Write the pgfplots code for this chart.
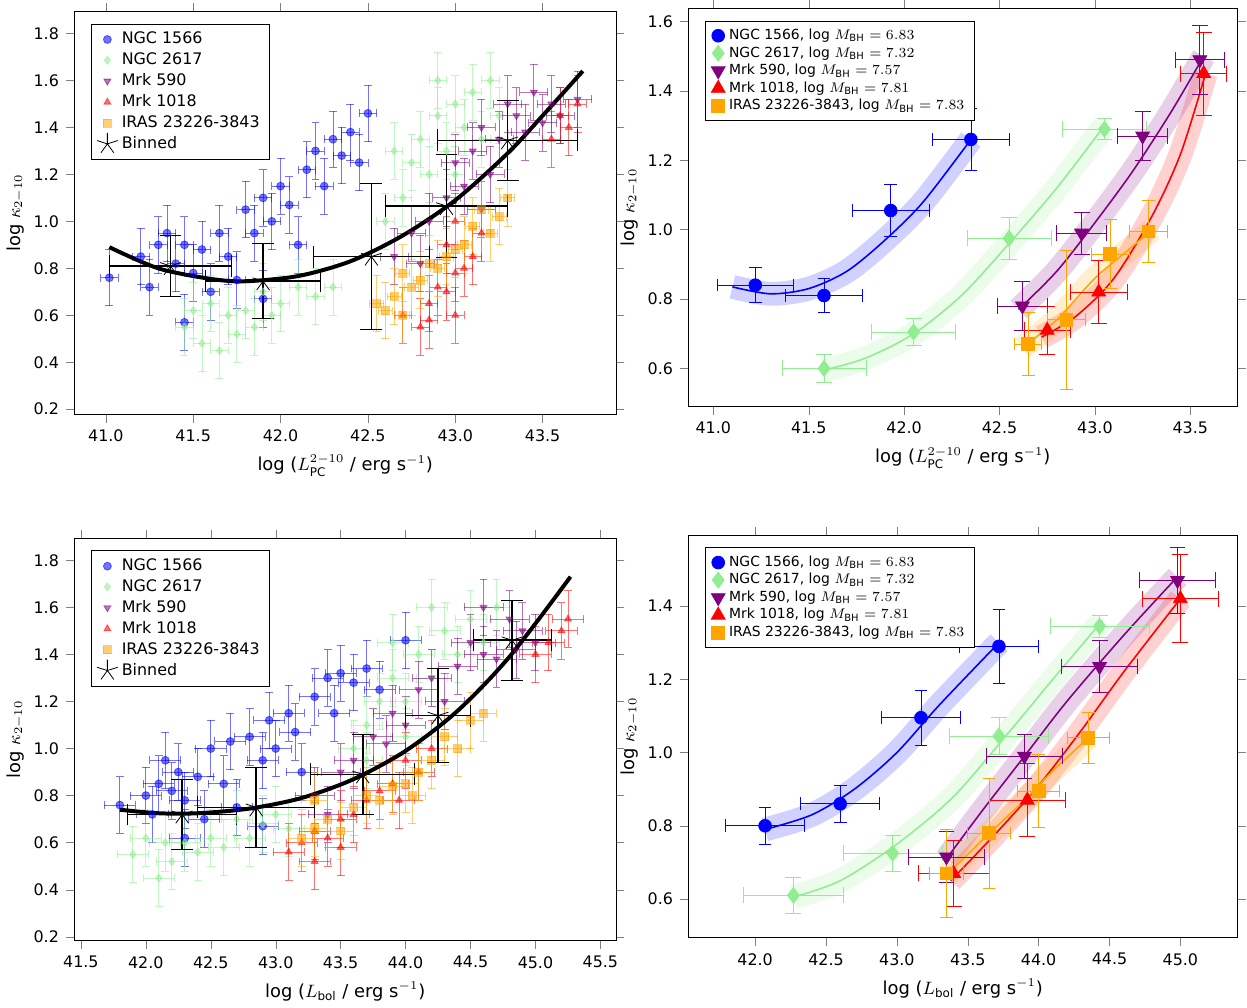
\documentclass[border=0pt]{standalone}
\usepackage{pgfplots}
\pgfplotsset{compat=1.18}
\usepackage{fontspec}
\setmainfont{DejaVu Sans}
\definecolor{lg}{RGB}{144,238,144}
\definecolor{pur}{RGB}{128,0,128}
\definecolor{org}{RGB}{255,165,0}
\pgfplotsset{
  every axis/.append style={scale only axis, anchor=north west,
    /pgf/number format/assume math mode=true,
    tick label style={font=\footnotesize}, label style={font=\small},
    tick align=outside, ylabel style={yshift=-2pt}},
  sc/.style={only marks, mark size=2pt, opacity=0.55,
    error bars/x dir=both, error bars/x fixed=#1, error bars/y dir=both, error bars/y fixed=0.12},
  bn/.style={only marks, mark size=3.2pt,
    error bars/x dir=both, error bars/x explicit, error bars/y dir=both, error bars/y explicit},
  band/.style={forget plot, smooth, opacity=0.18, line width=12pt, #1},
  fit/.style={forget plot, smooth, thick, #1},
}
\begin{document}
\begin{tikzpicture}
\path (0,0) rectangle (623.5pt,-499pt);
% ---------------- top left
\begin{axis}[at={(33.5pt,-4pt)}, width=272.5pt, height=202.5pt,
  xmin=40.82, xmax=43.92, ymin=0.179, ymax=1.893,
  xtick={41,41.5,...,43.5}, ytick={0.2,0.4,...,1.8},
  xticklabel style={/pgf/number format/.cd,fixed,fixed zerofill,precision=1},
  yticklabel style={/pgf/number format/.cd,fixed,fixed zerofill,precision=1},
  xlabel={log ($L_{\rm PC}^{2-10}$ / erg s$^{-1}$)}, ylabel={log $\kappa_{2-10}$},
  legend pos=north west, legend style={font=\footnotesize, row sep=-1pt}, legend cell align=left]
\addplot[sc=0.05, blue, mark=*] coordinates {(41.02,0.76)(41.2,0.85)(41.25,0.72)(41.3,0.9)(41.35,0.95)(41.4,0.82)(41.45,0.9)(41.5,0.78)(41.55,0.88)(41.6,0.7)(41.65,0.95)(41.7,0.85)(41.75,0.75)(41.8,1.05)(41.85,0.95)(41.9,1.1)(41.95,1.0)(42.0,1.15)(42.05,1.07)(42.1,0.9)(42.15,1.22)(42.2,1.3)(42.25,1.15)(42.3,1.35)(42.35,1.28)(42.4,1.38)(42.45,1.25)(42.5,1.46)(41.45,0.57)(41.9,0.67)};
\addlegendentry{NGC 1566}
\addplot[sc=0.05, lg, mark=diamond*] coordinates {(41.45,0.55)(41.5,0.62)(41.55,0.48)(41.6,0.65)(41.65,0.45)(41.7,0.6)(41.75,0.52)(41.8,0.62)(41.85,0.55)(41.9,0.7)(41.95,0.6)(42.0,0.65)(42.1,0.72)(42.2,0.68)(42.3,0.72)(42.6,1.0)(42.7,1.1)(42.75,1.25)(42.8,1.35)(42.85,1.2)(42.9,1.45)(42.95,1.3)(43.0,1.5)(43.05,1.4)(43.1,1.55)(43.15,1.35)(43.2,1.6)(43.25,1.45)(42.65,1.3)(42.9,1.6)(43.0,1.2)};
\addlegendentry{NGC 2617}
\addplot[sc=0.08, pur, mark=triangle*, mark options={rotate=180}] coordinates {(42.65,0.85)(42.75,0.95)(42.85,1.0)(42.95,1.1)(43.0,1.25)(43.05,1.15)(43.1,1.3)(43.15,1.4)(43.2,1.2)(43.25,1.35)(43.3,1.5)(43.35,1.45)(43.4,1.38)(43.45,1.55)(43.5,1.42)(43.55,1.5)(43.6,1.45)(43.7,1.52)(42.8,0.82)(43.15,1.05)};
\addlegendentry{Mrk 590}
\addplot[sc=0.05, red, mark=triangle*] coordinates {(42.7,0.6)(42.8,0.55)(42.85,0.65)(42.9,0.72)(42.95,0.7)(43.0,0.78)(43.05,0.8)(43.1,0.85)(42.95,0.9)(43.0,1.0)(43.15,0.95)(43.55,1.35)(43.6,1.45)(43.65,1.4)(43.7,1.5)(42.85,0.58)(43.0,0.6)};
\addlegendentry{Mrk 1018}
\addplot[sc=0.04, org, mark=square*] coordinates {(42.55,0.65)(42.6,0.62)(42.65,0.68)(42.7,0.6)(42.75,0.72)(42.8,0.75)(42.85,0.82)(42.9,0.8)(42.95,0.85)(43.0,0.88)(43.05,0.9)(43.1,0.98)(43.15,1.05)(43.2,0.95)(43.25,1.02)(43.3,1.1)(42.7,0.78)};
\addlegendentry{IRAS 23226-3843}
\addplot[forget plot, smooth, black, line width=2pt] coordinates {(41.02,0.89)(41.3,0.80)(41.6,0.755)(41.8,0.745)(42.1,0.767)(42.4,0.83)(42.7,0.94)(43.0,1.09)(43.3,1.29)(43.5,1.45)(43.73,1.64)};
\addplot[bn, mark=star, mark size=5.5pt, fill=yellow, draw=black, error bars/error bar style={black, thick}] coordinates {(41.37,0.81)+-(0.35,0.13)(41.9,0.745)+-(0.33,0.16)(42.52,0.85)+-(0.33,0.31)(42.95,1.065)+-(0.35,0.22)(43.3,1.345)+-(0.4,0.17)};
\addlegendentry{Binned}
\end{axis}
% ---------------- top right
\begin{axis}[at={(342.5pt,-2.5pt)}, width=276pt, height=200pt,
  xmin=40.87, xmax=43.745, ymin=0.491, ymax=1.637,
  xtick={41,41.5,...,43.5}, ytick={0.6,0.8,...,1.6},
  xticklabel style={/pgf/number format/.cd,fixed,fixed zerofill,precision=1},
  yticklabel style={/pgf/number format/.cd,fixed,fixed zerofill,precision=1},
  xlabel={log ($L_{\rm PC}^{2-10}$ / erg s$^{-1}$)}, ylabel={log $\kappa_{2-10}$},
  legend pos=north west, legend style={font=\scriptsize, row sep=-2pt}, legend cell align=left]
\addplot[band=blue] coordinates {(41.1,0.835)(41.3,0.815)(41.5,0.83)(41.7,0.88)(41.9,0.97)(42.1,1.08)(42.35,1.26)};
\addplot[band=lg] coordinates {(41.58,0.595)(41.8,0.63)(42.05,0.70)(42.3,0.81)(42.55,0.96)(42.8,1.12)(43.05,1.3)};
\addplot[band=pur] coordinates {(42.6,0.77)(42.8,0.88)(43.0,1.02)(43.2,1.17)(43.4,1.34)(43.57,1.5)};
\addplot[band=red] coordinates {(42.72,0.69)(42.9,0.75)(43.1,0.86)(43.3,1.04)(43.45,1.22)(43.58,1.45)};
\addplot[band=org] coordinates {(42.62,0.66)(42.8,0.74)(43.0,0.86)(43.15,0.93)(43.3,1.0)};
\addplot[fit=blue] coordinates {(41.1,0.835)(41.3,0.815)(41.5,0.83)(41.7,0.88)(41.9,0.97)(42.1,1.08)(42.35,1.26)};
\addplot[fit=lg] coordinates {(41.58,0.595)(41.8,0.63)(42.05,0.70)(42.3,0.81)(42.55,0.96)(42.8,1.12)(43.05,1.3)};
\addplot[fit=pur] coordinates {(42.6,0.77)(42.8,0.88)(43.0,1.02)(43.2,1.17)(43.4,1.34)(43.57,1.5)};
\addplot[fit=red] coordinates {(42.72,0.69)(42.9,0.75)(43.1,0.86)(43.3,1.04)(43.45,1.22)(43.58,1.45)};
\addplot[fit=org] coordinates {(42.62,0.66)(42.8,0.74)(43.0,0.86)(43.15,0.93)(43.3,1.0)};
\addplot[bn, blue, mark=*] coordinates {(41.22,0.84)+-(0.2,0.05)(41.58,0.81)+-(0.2,0.05)(41.93,1.055)+-(0.2,0.075)(42.35,1.26)+-(0.2,0.09)};
\addlegendentry{NGC 1566, log $M_{\rm BH}=6.83$}
\addplot[bn, lg, mark=diamond*, mark size=4pt] coordinates {(41.58,0.60)+-(0.22,0.04)(42.05,0.705)+-(0.22,0.04)(42.55,0.975)+-(0.22,0.06)(43.05,1.29)+-(0.22,0.03)};
\addlegendentry{NGC 2617, log $M_{\rm BH}=7.32$}
\addplot[bn, pur, mark=triangle*, mark size=4pt, mark options={rotate=180}] coordinates {(42.62,0.78)+-(0.13,0.07)(42.93,0.99)+-(0.13,0.06)(43.25,1.27)+-(0.13,0.07)(43.55,1.49)+-(0.13,0.1)};
\addlegendentry{Mrk 590, log $M_{\rm BH}=7.57$}
\addplot[bn, red, mark=triangle*, mark size=4pt] coordinates {(42.75,0.71)+-(0.12,0.07)(43.02,0.82)+-(0.15,0.09)(43.57,1.45)+-(0.12,0.12)};
\addlegendentry{Mrk 1018, log $M_{\rm BH}=7.81$}
\addplot[bn, org, mark=square*] coordinates {(42.65,0.67)+-(0.07,0.09)(42.85,0.74)+-(0.1,0.2)(43.08,0.93)+-(0.1,0.1)(43.28,0.995)+-(0.1,0.09)};
\addlegendentry{IRAS 23226-3843, log $M_{\rm BH}=7.83$}
\end{axis}
% ---------------- bottom left
\begin{axis}[at={(33.5pt,-269pt)}, width=272.5pt, height=202.5pt,
  xmin=41.45, xmax=45.62, ymin=0.183, ymax=1.893,
  xtick={41.5,42,...,45.5}, ytick={0.2,0.4,...,1.8},
  xticklabel style={/pgf/number format/.cd,fixed,fixed zerofill,precision=1},
  yticklabel style={/pgf/number format/.cd,fixed,fixed zerofill,precision=1},
  xlabel={log ($L_{\rm bol}$ / erg s$^{-1}$)}, ylabel={log $\kappa_{2-10}$},
  legend pos=north west, legend style={font=\footnotesize, row sep=-1pt}, legend cell align=left]
\addplot[sc=0.12, blue, mark=*] coordinates {(41.8,0.76)(42.0,0.8)(42.05,0.72)(42.1,0.85)(42.15,0.95)(42.2,0.82)(42.25,0.9)(42.3,0.78)(42.4,0.88)(42.45,0.7)(42.5,1.0)(42.6,0.85)(42.65,1.03)(42.7,0.75)(42.8,1.05)(42.9,0.95)(42.95,1.12)(43.0,1.0)(43.1,1.15)(43.15,1.07)(43.2,0.9)(43.3,1.22)(43.4,1.3)(43.45,1.15)(43.5,1.32)(43.6,1.28)(43.7,1.34)(43.8,1.25)(44.0,1.46)(42.3,0.62)(42.9,0.67)};
\addlegendentry{NGC 1566}
\addplot[sc=0.12, lg, mark=diamond*] coordinates {(41.9,0.55)(42.0,0.62)(42.1,0.45)(42.15,0.6)(42.2,0.52)(42.3,0.6)(42.4,0.56)(42.5,0.62)(42.6,0.58)(42.7,0.7)(42.8,0.62)(42.9,0.68)(43.0,0.72)(43.1,0.66)(43.6,1.0)(43.7,1.1)(43.8,1.2)(43.9,1.3)(44.0,1.2)(44.1,1.4)(44.2,1.3)(44.3,1.5)(44.4,1.4)(44.5,1.55)(44.6,1.45)(44.7,1.6)(43.9,1.45)(44.2,1.6)(44.0,1.05)(43.7,0.95)};
\addlegendentry{NGC 2617}
\addplot[sc=0.15, pur, mark=triangle*, mark options={rotate=180}] coordinates {(43.3,0.8)(43.5,0.9)(43.6,0.95)(43.75,1.05)(43.9,1.15)(44.0,1.1)(44.1,1.25)(44.2,1.3)(44.3,1.2)(44.4,1.35)(44.5,1.45)(44.6,1.4)(44.7,1.38)(44.8,1.55)(44.85,1.42)(44.9,1.5)(45.0,1.45)(44.6,1.6)(43.4,0.72)(43.85,1.02)};
\addlegendentry{Mrk 590}
\addplot[sc=0.12, red, mark=triangle*] coordinates {(43.1,0.56)(43.2,0.6)(43.3,0.65)(43.4,0.62)(43.5,0.7)(43.6,0.72)(43.7,0.78)(43.8,0.82)(43.9,0.85)(43.95,0.78)(44.0,0.95)(44.1,0.9)(44.2,1.0)(45.0,1.4)(45.1,1.45)(45.2,1.5)(45.25,1.55)(43.3,0.52)(43.5,0.58)};
\addlegendentry{Mrk 1018}
\addplot[sc=0.1, org, mark=square*] coordinates {(43.2,0.62)(43.3,0.66)(43.4,0.7)(43.5,0.65)(43.6,0.75)(43.7,0.8)(43.8,0.78)(43.9,0.84)(44.0,0.85)(44.05,0.8)(44.1,0.9)(44.2,0.95)(44.3,1.05)(44.4,1.0)(44.5,1.12)(44.6,1.15)(43.3,0.78)};
\addlegendentry{IRAS 23226-3843}
\addplot[forget plot, smooth, black, line width=2pt] coordinates {(41.8,0.74)(42.1,0.725)(42.4,0.725)(42.8,0.745)(43.2,0.79)(43.6,0.87)(44.0,0.99)(44.4,1.16)(44.8,1.39)(45.27,1.73)};
\addplot[bn, mark=star, mark size=5.5pt, fill=yellow, draw=black, error bars/error bar style={black, thick}] coordinates {(42.28,0.72)+-(0.42,0.15)(42.85,0.75)+-(0.45,0.17)(43.67,0.89)+-(0.4,0.17)(44.25,1.14)+-(0.25,0.2)(44.82,1.46)+-(0.3,0.17)};
\addlegendentry{Binned}
\end{axis}
% ---------------- bottom right
\begin{axis}[at={(342.5pt,-267.5pt)}, width=276pt, height=202.5pt,
  xmin=41.53, xmax=45.40, ymin=0.494, ymax=1.593,
  xtick={42,42.5,...,45}, ytick={0.6,0.8,...,1.4},
  xticklabel style={/pgf/number format/.cd,fixed,fixed zerofill,precision=1},
  yticklabel style={/pgf/number format/.cd,fixed,fixed zerofill,precision=1},
  xlabel={log ($L_{\rm bol}$ / erg s$^{-1}$)}, ylabel={log $\kappa_{2-10}$},
  legend pos=north west, legend style={font=\scriptsize, row sep=-2pt}, legend cell align=left]
\addplot[band=blue] coordinates {(42.07,0.79)(42.4,0.83)(42.7,0.9)(43.0,1.0)(43.3,1.13)(43.72,1.3)};
\addplot[band=lg] coordinates {(42.27,0.605)(42.6,0.65)(43.0,0.75)(43.4,0.88)(43.8,1.06)(44.1,1.2)(44.45,1.36)};
\addplot[band=pur] coordinates {(43.35,0.71)(43.6,0.84)(43.9,0.99)(44.2,1.14)(44.6,1.32)(44.98,1.48)};
\addplot[band=red] coordinates {(43.38,0.65)(43.7,0.78)(44.0,0.91)(44.3,1.06)(44.6,1.22)(45.0,1.42)};
\addplot[band=org] coordinates {(43.35,0.665)(43.6,0.76)(43.9,0.87)(44.1,0.95)(44.35,1.04)};
\addplot[fit=blue] coordinates {(42.07,0.79)(42.4,0.83)(42.7,0.9)(43.0,1.0)(43.3,1.13)(43.72,1.3)};
\addplot[fit=lg] coordinates {(42.27,0.605)(42.6,0.65)(43.0,0.75)(43.4,0.88)(43.8,1.06)(44.1,1.2)(44.45,1.36)};
\addplot[fit=pur] coordinates {(43.35,0.71)(43.6,0.84)(43.9,0.99)(44.2,1.14)(44.6,1.32)(44.98,1.48)};
\addplot[fit=red] coordinates {(43.38,0.65)(43.7,0.78)(44.0,0.91)(44.3,1.06)(44.6,1.22)(45.0,1.42)};
\addplot[fit=org] coordinates {(43.35,0.665)(43.6,0.76)(43.9,0.87)(44.1,0.95)(44.35,1.04)};
\addplot[bn, blue, mark=*] coordinates {(42.07,0.80)+-(0.28,0.05)(42.6,0.86)+-(0.28,0.05)(43.17,1.095)+-(0.28,0.075)(43.72,1.29)+-(0.28,0.1)};
\addlegendentry{NGC 1566, log $M_{\rm BH}=6.83$}
\addplot[bn, lg, mark=diamond*, mark size=4pt] coordinates {(42.27,0.61)+-(0.35,0.05)(42.97,0.725)+-(0.35,0.05)(43.72,1.045)+-(0.35,0.05)(44.43,1.345)+-(0.35,0.03)};
\addlegendentry{NGC 2617, log $M_{\rm BH}=7.32$}
\addplot[bn, pur, mark=triangle*, mark size=4pt, mark options={rotate=180}] coordinates {(43.35,0.715)+-(0.27,0.07)(43.9,0.99)+-(0.27,0.06)(44.43,1.235)+-(0.27,0.07)(44.98,1.47)+-(0.27,0.09)};
\addlegendentry{Mrk 590, log $M_{\rm BH}=7.57$}
\addplot[bn, red, mark=triangle*, mark size=4pt] coordinates {(43.4,0.67)+-(0.25,0.09)(43.92,0.87)+-(0.27,0.1)(45.0,1.42)+-(0.27,0.12)};
\addlegendentry{Mrk 1018, log $M_{\rm BH}=7.81$}
\addplot[bn, org, mark=square*] coordinates {(43.35,0.67)+-(0.12,0.12)(43.65,0.78)+-(0.15,0.15)(44.0,0.895)+-(0.15,0.1)(44.35,1.04)+-(0.15,0.07)};
\addlegendentry{IRAS 23226-3843, log $M_{\rm BH}=7.83$}
\end{axis}
\end{tikzpicture}
\end{document}
